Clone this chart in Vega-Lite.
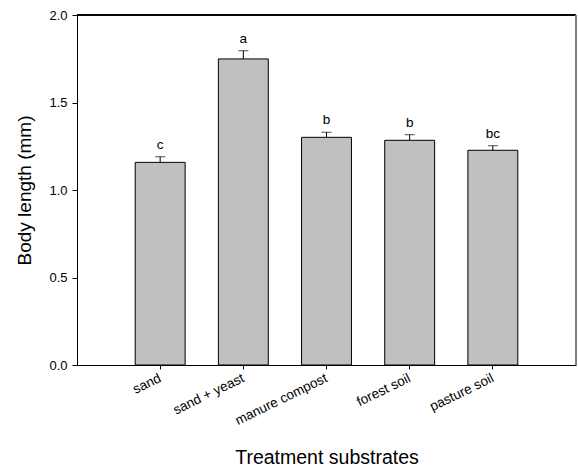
{
  "$schema": "https://vega.github.io/schema/vega-lite/v6.json",
  "width": 499,
  "height": 350,
  "autosize": {"type": "none"},
  "padding": {"left": 77, "top": 15, "right": 2, "bottom": 103},
  "background": "white",
  "config": {
    "font": "Liberation Sans",
    "view": {"stroke": null},
    "axis": {
      "domainColor": "black",
      "tickColor": "black",
      "labelColor": "black",
      "titleColor": "black",
      "labelFont": "Liberation Sans",
      "titleFont": "Liberation Sans",
      "titleFontWeight": "normal",
      "labelFontSize": 13,
      "titleFontSize": 19.5,
      "grid": false
    }
  },
  "data": {
    "values": [
      {"substrate": "sand", "mean": 1.158, "upper": 1.19, "group": "c"},
      {"substrate": "sand + yeast", "mean": 1.749, "upper": 1.796, "group": "a"},
      {"substrate": "manure compost", "mean": 1.301, "upper": 1.33, "group": "b"},
      {"substrate": "forest soil", "mean": 1.284, "upper": 1.316, "group": "b"},
      {"substrate": "pasture soil", "mean": 1.227, "upper": 1.253, "group": "bc"}
    ]
  },
  "encoding": {
    "x": {
      "field": "substrate",
      "type": "nominal",
      "sort": null,
      "scale": {"paddingInner": 0.4, "paddingOuter": 0.7},
      "axis": {
        "title": "Treatment substrates",
        "labelAngle": -26,
        "labelAlign": "right",
        "labelBaseline": "middle",
        "labelFontSize": 13.5,
        "tickSize": 4,
        "labelPadding": 8,
        "titlePadding": 22
      }
    }
  },
  "layer": [
    {
      "mark": {"type": "bar", "fill": "#c0c0c0", "stroke": "black", "strokeWidth": 1},
      "encoding": {
        "y": {
          "field": "mean",
          "type": "quantitative",
          "scale": {"domain": [0, 2]},
          "axis": {
            "title": "Body length (mm)",
            "titleFontSize": 19,
            "values": [0, 0.5, 1, 1.5, 2],
            "format": ".1f",
            "tickSize": 5,
            "labelPadding": 5,
            "titlePadding": 14
          }
        }
      }
    },
    {
      "mark": {"type": "rule", "color": "black", "strokeWidth": 1},
      "encoding": {
        "y": {"field": "mean", "type": "quantitative"},
        "y2": {"field": "upper"}
      }
    },
    {
      "mark": {"type": "tick", "color": "black", "size": 10, "thickness": 1},
      "encoding": {
        "y": {"field": "upper", "type": "quantitative"}
      }
    },
    {
      "mark": {"type": "text", "baseline": "alphabetic", "dy": -8, "fontSize": 13.5, "font": "Liberation Sans", "color": "black"},
      "encoding": {
        "y": {"field": "upper", "type": "quantitative"},
        "text": {"field": "group"}
      }
    },
    {
      "mark": {"type": "rule", "color": "black", "strokeWidth": 1},
      "encoding": {"y": {"datum": 2}, "x": {"value": 0}, "x2": {"value": 499}}
    },
    {
      "mark": {"type": "rule", "color": "#808080", "strokeWidth": 2},
      "encoding": {"x": {"value": 499}, "y": {"value": 0}, "y2": {"value": 350}}
    }
  ]
}
